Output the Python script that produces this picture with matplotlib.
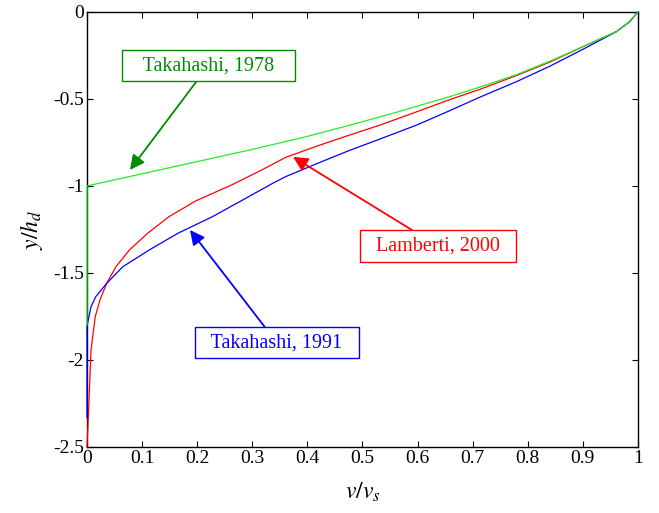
import numpy as np
import matplotlib as mpl
mpl.use("Agg")
import matplotlib.pyplot as plt

mpl.rcParams['font.family'] = ['Liberation Serif']
mpl.rcParams['mathtext.fontset'] = 'stix'
mpl.rcParams['axes.unicode_minus'] = False
fontsize = 14

# Takahashi, 1978
v_t78 = [0, 0, 0.1, 0.2, 0.3, 0.4, 0.48, 0.56, 0.66, 0.713, 0.78, 0.84, 0.9, 0.961, 0.985, 1.0]
y_t78 = [-1.8, -1.0, -0.93, -0.86, -0.79, -0.715, -0.648, -0.578, -0.485, -0.432, -0.36, -0.283,
         -0.2, -0.113, -0.056, 0.0]

# Lamberti, 2000
v_l00 = [0, 0.0024, 0.0073, 0.015, 0.0236, 0.0357, 0.0526, 0.077, 0.110, 0.149, 0.198,
         0.264, 0.316, 0.361, 0.42, 0.477, 0.532, 0.6, 0.66, 0.713, 0.78, 0.84, 0.9,
         0.961, 0.985, 1.0]
y_l00 = [-2.5, -2.33, -1.943, -1.751, -1.655, -1.559, -1.464, -1.368, -1.272, -1.176, -1.085,
         -0.992, -0.91, -0.835, -0.768, -0.707, -0.65, -0.572, -0.502, -0.445, -0.365, -0.288,
         -0.2, -0.113, -0.056, 0.0]

# Takahashi, 1991
v_t91 = [0, 0, 0.001, 0.0073, 0.016, 0.036, 0.065, 0.113, 0.165, 0.228, 0.283, 0.337,
         0.361, 0.42, 0.477, 0.532, 0.6, 0.66, 0.713, 0.78, 0.84, 0.9, 0.961, 0.985, 1.0]
y_t91 = [-2.33, -1.8, -1.79, -1.694, -1.636, -1.559, -1.464, -1.368, -1.272, -1.176, -1.080,
         -0.985, -0.946, -0.868, -0.795, -0.73, -0.648, -0.565, -0.49, -0.40, -0.312, -0.215,
         -0.113, -0.056, 0.0]

xticks = [0, 0.1, 0.2, 0.3, 0.4, 0.5, 0.6, 0.7, 0.8, 0.9, 1]
xticklabels = ["0", "0.1", "0.2", "0.3", "0.4", "0.5", "0.6", "0.7", "0.8", "0.9", "1"]
yticks = [0, -0.5, -1, -1.5, -2, -2.5]
yticklabels = ["0", "-0.5", "-1", "-1.5", "-2", "-2.5"]

fig = plt.figure(figsize=(6.59, 5.13), dpi=100)
ax = fig.add_axes([0.132, 0.1287, 0.836, 0.848])

ax.plot(v_l00, y_l00, color='red', lw=0.9, clip_on=False, zorder=3)
ax.plot(v_t91, y_t91, color='blue', lw=0.9, clip_on=False, zorder=3)
ax.plot(v_t78, y_t78, color='#22ee22', lw=0.9, clip_on=False, zorder=3)

ax.set_xlim(0, 1)
ax.set_ylim(-2.5, 0)
ax.set_xticks(xticks)
ax.set_xticklabels(xticklabels, fontsize=fontsize)
ax.set_yticks(yticks)
ax.set_yticklabels(yticklabels, fontsize=fontsize)
ax.tick_params(direction='in', top=True, right=True, length=4, width=0.8, pad=2)
for s in ax.spines.values():
    s.set_linewidth(1.0)

ax.set_xlabel(r"$v/v_s$", fontsize=17, labelpad=10)
ax.set_ylabel(r"$y/h_d$", fontsize=17, labelpad=6)

# Annotations
def label(text, xy, xytext, col):
    ax.annotate(text, xy=xy, xytext=xytext, fontsize=14.5, color=col,
                ha='center', va='center', zorder=5,
                bbox=dict(boxstyle='square,pad=0.3', fc='white', ec=col, lw=1.0),
                arrowprops=dict(arrowstyle='-|>', mutation_scale=22, color=col,
                                lw=1.3, shrinkA=0, shrinkB=0))

label("   Takahashi, 1978   ", (0.078, -0.908), (0.22, -0.31), '#008c00')
label("  Lamberti, 2000  ", (0.374, -0.833), (0.637, -1.345), 'red')
label("  Takahashi, 1991  ", (0.187, -1.253), (0.345, -1.902), 'blue')

plt.savefig('out.png', dpi=100)
